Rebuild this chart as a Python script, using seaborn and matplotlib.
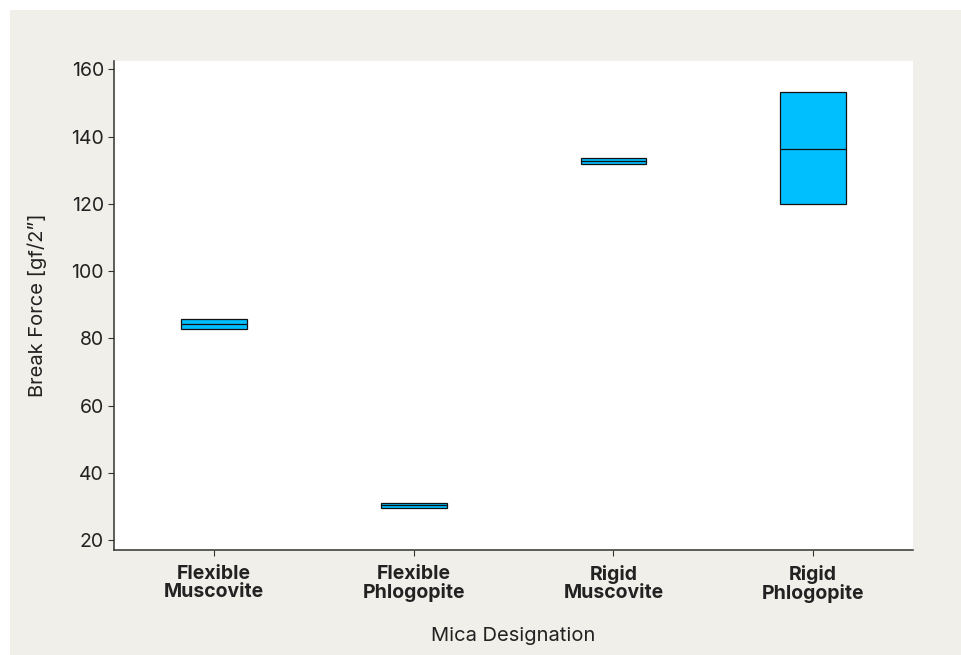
import matplotlib
matplotlib.use("Agg")
import matplotlib.pyplot as plt
import seaborn as sns
import pandas as pd
from matplotlib.patches import Rectangle

# Break force summary per mica grade: lower quartile, median, upper quartile
categories = ["Flexible\nMuscovite", "Flexible\nPhlogopite", "Rigid\nMuscovite", "Rigid\nPhlogopite"]
q1_values = [82.8, 29.7, 132.0, 120.0]
median_values = [84.3, 30.4, 132.7, 136.4]
q3_values = [85.7, 31.2, 133.6, 153.3]
y_ticks = [20, 40, 60, 80, 100, 120, 140, 160]

# Observations whose quartiles reproduce the summary above
rows = []
for cat, lo, mid, hi in zip(categories, q1_values, median_values, q3_values):
    for v in (lo, lo, mid, hi, hi):
        rows.append({"Mica Designation": cat, "Break Force": v})
df = pd.DataFrame(rows)

sns.set_theme(style="white")
plt.rcParams["font.family"] = ["Inter", "DejaVu Sans"]

W, H = 961, 655
fig = plt.figure(figsize=(W / 100, H / 100), dpi=100)
fig.patch.set_facecolor("white")

# Beige panel behind the chart
panel = Rectangle((10 / W, 0), 1 - 10 / W, (H - 10) / H, transform=fig.transFigure,
                  facecolor="#f1efe9", edgecolor="none", zorder=-10)
fig.patches.append(panel)

ax = fig.add_axes([114.3 / W, 105 / H, (913 - 114.3) / W, (550 - 61) / H])
ax.set_facecolor("white")

sns.boxplot(data=df, x="Mica Designation", y="Break Force", order=categories,
            color="#00bfff", saturation=1, width=0.33, linecolor="#111111",
            linewidth=0.9, showcaps=False, showfliers=False,
            whiskerprops={"linewidth": 0}, ax=ax)

ax.set_xlim(-0.5, 3.5)
ax.set_ylim(17.1, 162.5)
ax.set_yticks(y_ticks)
ax.set_yticklabels([str(t) for t in y_ticks], fontsize=14, color="#222222")
ax.set_xticks(range(len(categories)))
ax.set_xticklabels(categories, fontsize=14, fontweight="bold", color="#222222",
                   linespacing=0.95)

for side in ("top", "right"):
    ax.spines[side].set_visible(False)
for side in ("left", "bottom"):
    ax.spines[side].set_color("#333333")
    ax.spines[side].set_linewidth(1.1)

ax.tick_params(axis="both", which="major", direction="out", length=4, width=0.8,
               color="#333333", bottom=True, left=True)
ax.tick_params(axis="x", pad=7)
ax.tick_params(axis="y", pad=3.5)

ax.set_xlabel("Mica Designation", fontsize=14.5, color="#222222")
ax.set_ylabel("Break Force [gf/2\u201d]", fontsize=14.5, color="#222222")
ax.xaxis.set_label_coords(0.5, -0.158)
ax.yaxis.set_label_coords(-0.084, 0.5)

fig.savefig("out.png", dpi=100, facecolor=fig.get_facecolor())
